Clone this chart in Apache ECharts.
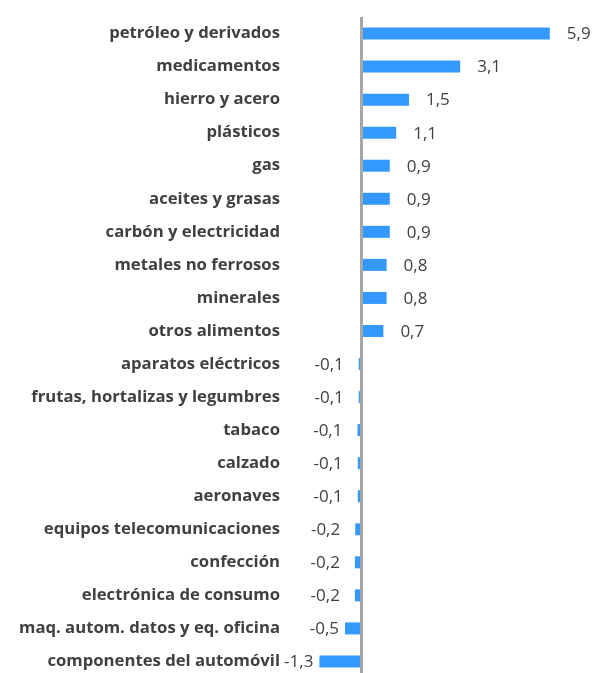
<!DOCTYPE html>
<html><head><meta charset="utf-8">
<script src="https://cdn.jsdelivr.net/npm/echarts@6/dist/echarts.min.js"></script>
<style>html,body{margin:0;padding:0;background:#fff;overflow:hidden}#c{width:596px;height:690px}</style>
</head><body><div id="c"></div>
<script>
const categories = ["petróleo y derivados","medicamentos","hierro y acero","plásticos","gas","aceites y grasas","carbón y electricidad","metales no ferrosos","minerales","otros alimentos","aparatos eléctricos","frutas, hortalizas y legumbres","tabaco","calzado","aeronaves","equipos telecomunicaciones","confección","electrónica de consumo","maq. autom. datos y eq. oficina","componentes del automóvil"];
const values = [5.9,3.1,1.5,1.1,0.9,0.9,0.9,0.8,0.8,0.7,-0.07,-0.07,-0.11,-0.1,-0.1,-0.18,-0.19,-0.19,-0.5,-1.3];

const chart = echarts.init(document.getElementById('c'));
const fmt = v => v.toFixed(1).replace('.', ',');
chart.setOption({
  animation: false,
  grid: {left: 297, width: 288, top: 17, height: 661},
  xAxis: {type: 'value', min: -2, max: 7, show: false},
  yAxis: {type: 'category', data: categories, inverse: true,
    axisLine: {show: false, onZero: false}, axisTick: {show: false},
    axisLabel: {margin: 17, color: '#404040', fontFamily: 'Open Sans', fontWeight: 'bold', fontSize: 16.7}},
  series: [{
    type: 'bar', barWidth: 12,
    data: values.map(v => ({value: v, label: {position: v < 0 ? 'left' : 'right', distance: v < 0 ? (v > -0.3 ? 15 : 6) : 17}})),
    itemStyle: {color: '#3399FF'},
    label: {show: true, color: '#404040', fontFamily: 'Open Sans', fontSize: 17, offset: [0, 1], formatter: p => fmt(p.value)},
    markLine: {silent: true, symbol: 'none', label: {show: false},
      lineStyle: {color: '#A6A6A6', width: 3, type: 'solid'}, data: [{xAxis: 0}]}
  }]
});
</script></body></html>
